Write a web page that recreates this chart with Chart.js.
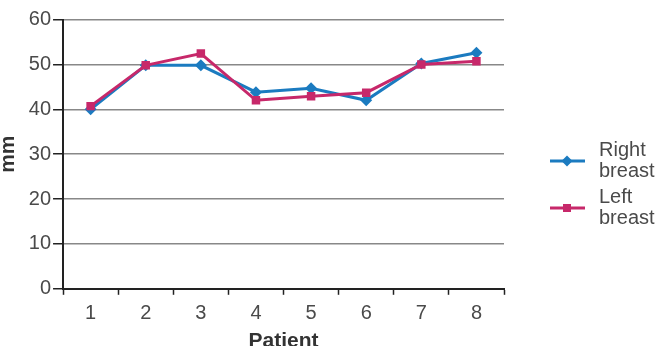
<!DOCTYPE html>
<html>
<head>
<meta charset="utf-8">
<script src="https://cdn.jsdelivr.net/npm/chart.js@4"></script>
<style>
  html, body { margin: 0; padding: 0; background: #fff; overflow: hidden; }
  #wrap { width: 668px; height: 346px; overflow: hidden; }
</style>
</head>
<body>
<div id="wrap"><canvas id="myChart" width="668" height="350"></canvas></div>
<script>
const patients = ['1', '2', '3', '4', '5', '6', '7', '8'];
const rightBreast = [40, 49.8, 49.8, 43.8, 44.7, 42, 50.2, 52.6];
const leftBreast = [40.7, 49.8, 52.4, 42, 42.9, 43.7, 50, 50.7];
const legendLines = [['Right', 'breast'], ['Left', 'breast']];

const textColor = '#4a4a4a';
const blue = '#1b7bc0';
const pink = '#c7286a';
const fontFamily = '"Liberation Sans", Arial, sans-serif';

// draws the legend on the right, text split over two lines
const sideLegend = {
    id: 'sideLegend',
    afterDraw(chart) {
        const ctx = chart.ctx;
        const rows = [161, 208];
        ctx.save();
        chart.data.datasets.forEach((ds, i) => {
            const y = rows[i];
            ctx.strokeStyle = ds.borderColor;
            ctx.lineWidth = 3;
            ctx.beginPath();
            ctx.moveTo(550, y);
            ctx.lineTo(585, y);
            ctx.stroke();
            ctx.fillStyle = ds.borderColor;
            if (ds.pointStyle === 'rectRot') {
                ctx.beginPath();
                ctx.moveTo(567, y - 5.5);
                ctx.lineTo(572.5, y);
                ctx.lineTo(567, y + 5.5);
                ctx.lineTo(561.5, y);
                ctx.closePath();
                ctx.fill();
            } else {
                ctx.fillRect(563, y - 4, 8, 8);
            }
            ctx.fillStyle = textColor;
            ctx.font = '20px ' + fontFamily;
            ctx.textBaseline = 'middle';
            ctx.textAlign = 'left';
            ctx.fillText(legendLines[i][0], 599, y - 11);
            ctx.fillText(legendLines[i][1], 599, y + 10);
        });
        ctx.restore();
    }
};

const ctx = document.getElementById('myChart').getContext('2d');
new Chart(ctx, {
    type: 'line',
    data: {
        labels: patients,
        datasets: [{
            label: 'Right breast',
            data: rightBreast,
            borderColor: blue,
            backgroundColor: blue,
            borderWidth: 3,
            pointStyle: 'rectRot',
            pointRadius: 6,
            pointBorderWidth: 0,
            tension: 0,
            order: 2
        }, {
            label: 'Left breast',
            data: leftBreast,
            borderColor: pink,
            backgroundColor: pink,
            borderWidth: 3,
            pointStyle: 'rect',
            pointRadius: 6,
            pointBorderWidth: 0,
            tension: 0,
            order: 1
        }]
    },
    options: {
        responsive: false,
        animation: false,
        layout: {
            padding: { left: 0, right: 164, top: 19.5, bottom: 0 }
        },
        scales: {
            x: {
                offset: true,
                border: { color: '#222', width: 2 },
                grid: {
                    offset: true,
                    drawOnChartArea: false,
                    drawTicks: true,
                    tickLength: 6,
                    tickColor: '#222',
                    tickWidth: 1.5
                },
                ticks: {
                    color: textColor,
                    padding: 7,
                    font: { size: 20, family: fontFamily }
                },
                title: {
                    display: true,
                    text: 'Patient',
                    color: '#333',
                    padding: { top: 0, bottom: 0 },
                    font: { size: 21, weight: 'bold', family: fontFamily, lineHeight: 0.819 }
                }
            },
            y: {
                min: 0,
                max: 60,
                border: { color: '#222', width: 2 },
                grid: {
                    color: '#888',
                    lineWidth: 1.5,
                    tickLength: 10,
                    tickColor: '#222',
                    tickWidth: 1.5
                },
                ticks: {
                    stepSize: 10,
                    color: textColor,
                    padding: 2,
                    font: { size: 20, family: fontFamily }
                },
                title: {
                    display: true,
                    text: 'mm',
                    color: '#333',
                    padding: { top: 0, bottom: 10 },
                    font: { size: 21, weight: 'bold', family: fontFamily, lineHeight: 0.8 }
                }
            }
        },
        plugins: {
            legend: { display: false },
            tooltip: { enabled: false }
        }
    },
    plugins: [sideLegend]
});
</script>
</body>
</html>
